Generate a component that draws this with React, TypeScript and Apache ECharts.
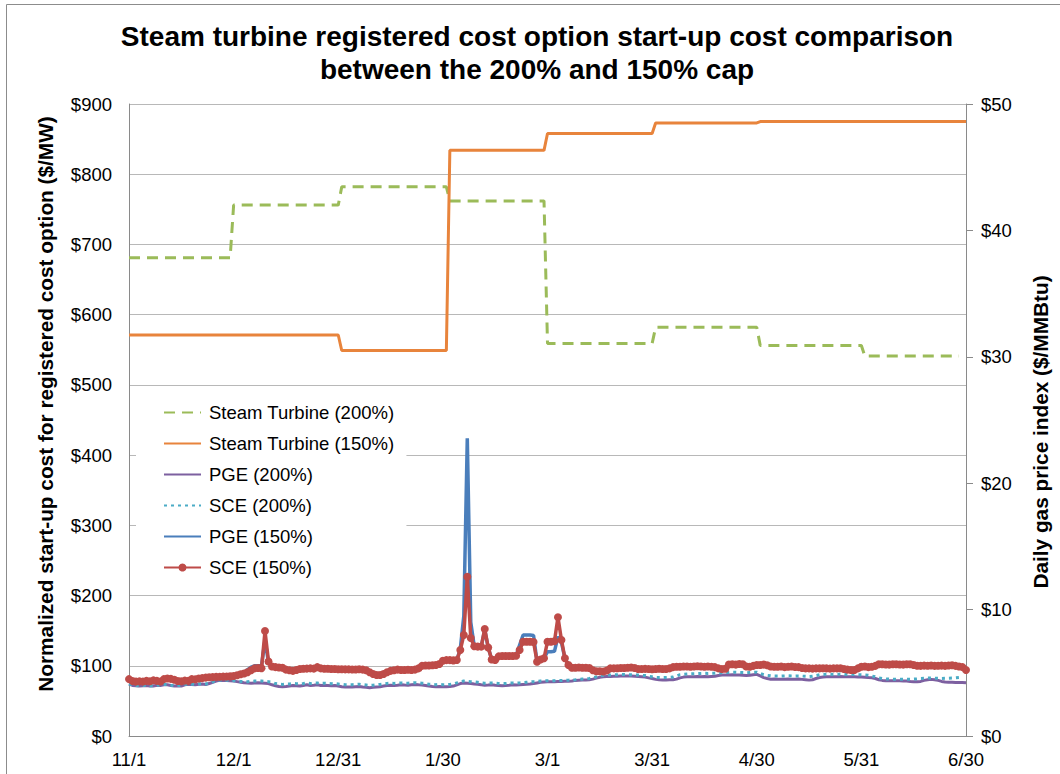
import React, { useEffect, useRef } from "react";
import * as echarts from "echarts";

// X axis: day index from 11/1 (0) to 6/30 (240); tick labels every 30 days
const tickLabels = ["11/1", "12/1", "12/31", "1/30", "3/1", "3/31", "4/30", "5/31", "6/30"];

// Steam turbine start-up cost ($/MW), step corners: day index and value
const steam200Day = [0, 29, 30, 60, 61, 91, 92, 119, 120, 150, 151, 180, 181, 210, 211, 238];
const steam200Cost = [681, 681, 756, 756, 782, 782, 762, 762, 559, 559, 582, 582, 556, 556, 541, 541];
const steam150Day = [0, 60, 61, 91, 92, 119, 120, 150, 151, 180, 181, 240];
const steam150Cost = [571, 571, 549, 549, 834, 834, 858, 858, 873, 873, 875, 875];

// Daily gas price index ($/MMBtu), one value per day from 11/1
const pge200 = [
  4.10, 4.00, 3.98, 3.96, 3.98, 4.00, 3.95, 3.96, 4.02, 4.00,
  4.05, 4.05, 4.00, 3.96, 3.98, 3.95, 4.05, 4.10, 4.08, 4.05,
  4.10, 4.12, 4.08, 4.15, 4.25, 4.35, 4.40, 4.42, 4.40, 4.38,
  4.35, 4.30, 4.25, 4.22, 4.20, 4.18, 4.20, 4.22, 4.20, 4.18,
  4.15, 4.05, 3.98, 3.92, 3.90, 3.92, 3.95, 4.00, 3.98, 3.95,
  4.00, 4.05, 4.00, 4.02, 4.05, 4.00, 4.02, 4.00, 3.98, 4.00,
  3.95, 3.90, 3.88, 3.87, 3.88, 3.90, 3.92, 3.88, 3.85, 3.82,
  3.85, 3.88, 3.90, 3.95, 4.00, 4.02, 4.00, 4.02, 4.05, 4.03,
  4.02, 4.05, 4.08, 4.05, 4.03, 4.00, 3.95, 3.92, 3.90, 3.92,
  3.90, 3.90, 3.92, 3.95, 4.05, 4.15, 4.20, 4.18, 4.15, 4.12,
  4.10, 4.05, 4.02, 4.03, 4.05, 4.02, 4.00, 3.98, 4.00, 4.02,
  4.05, 4.03, 4.05, 4.08, 4.10, 4.12, 4.15, 4.20, 4.25, 4.28,
  4.30, 4.30, 4.30, 4.32, 4.32, 4.33, 4.33, 4.35, 4.40, 4.42,
  4.43, 4.43, 4.45, 4.50, 4.58, 4.65, 4.68, 4.70, 4.70, 4.72,
  4.72, 4.74, 4.75, 4.75, 4.74, 4.72, 4.70, 4.68, 4.66, 4.60,
  4.55, 4.48, 4.45, 4.43, 4.43, 4.45, 4.45, 4.50, 4.60, 4.66,
  4.68, 4.68, 4.69, 4.70, 4.69, 4.70, 4.68, 4.70, 4.72, 4.78,
  4.82, 4.83, 4.83, 4.84, 4.83, 4.82, 4.80, 4.78, 4.80, 4.85,
  4.88, 4.75, 4.62, 4.55, 4.49, 4.50, 4.49, 4.48, 4.49, 4.50,
  4.48, 4.49, 4.50, 4.48, 4.45, 4.42, 4.45, 4.55, 4.62, 4.66,
  4.68, 4.69, 4.68, 4.69, 4.70, 4.69, 4.68, 4.69, 4.68, 4.67,
  4.66, 4.65, 4.62, 4.60, 4.55, 4.45, 4.40, 4.38, 4.38, 4.37,
  4.38, 4.38, 4.36, 4.35, 4.32, 4.30, 4.30, 4.32, 4.40, 4.45,
  4.48, 4.45, 4.40, 4.32, 4.28, 4.26, 4.25, 4.24, 4.24, 4.23,
  4.22,
];

const sce200 = [
  4.12, 4.02, 4.00, 3.98, 4.00, 4.02, 3.98, 3.98, 4.04, 4.02,
  4.08, 4.08, 4.02, 3.98, 4.00, 3.98, 4.08, 4.12, 4.10, 4.08,
  4.12, 4.15, 4.12, 4.18, 4.28, 4.38, 4.42, 4.44, 4.42, 4.40,
  4.38, 4.35, 4.32, 4.30, 4.30, 4.32, 4.35, 4.36, 4.35, 4.32,
  4.30, 4.25, 4.15, 4.10, 4.08, 4.10, 4.12, 4.15, 4.14, 4.12,
  4.15, 4.20, 4.15, 4.18, 4.20, 4.16, 4.18, 4.15, 4.14, 4.15,
  4.12, 4.08, 4.06, 4.05, 4.06, 4.08, 4.10, 4.06, 4.04, 4.00,
  4.02, 4.05, 4.08, 4.12, 4.16, 4.18, 4.16, 4.18, 4.20, 4.18,
  4.18, 4.20, 4.22, 4.20, 4.18, 4.15, 4.10, 4.08, 4.06, 4.08,
  4.06, 4.06, 4.08, 4.12, 4.20, 4.30, 4.35, 4.32, 4.30, 4.28,
  4.25, 4.20, 4.18, 4.18, 4.20, 4.18, 4.15, 4.14, 4.15, 4.18,
  4.20, 4.18, 4.20, 4.22, 4.25, 4.28, 4.30, 4.32, 4.35, 4.36,
  4.38, 4.38, 4.38, 4.40, 4.40, 4.40, 4.42, 4.43, 4.45, 4.48,
  4.50, 4.52, 4.55, 4.60, 4.68, 4.76, 4.80, 4.83, 4.83, 4.84,
  4.85, 4.86, 4.86, 4.85, 4.84, 4.83, 4.82, 4.80, 4.78, 4.72,
  4.68, 4.64, 4.62, 4.62, 4.63, 4.64, 4.66, 4.75, 4.85, 4.88,
  4.90, 4.92, 4.93, 4.94, 4.95, 4.96, 4.95, 4.96, 4.96, 4.98,
  5.00, 5.02, 5.03, 5.04, 5.04, 5.03, 5.02, 5.00, 5.02, 5.04,
  5.05, 4.95, 4.85, 4.80, 4.76, 4.75, 4.75, 4.74, 4.75, 4.76,
  4.75, 4.74, 4.75, 4.74, 4.72, 4.70, 4.72, 4.78, 4.84, 4.87,
  4.88, 4.88, 4.87, 4.88, 4.88, 4.87, 4.86, 4.87, 4.86, 4.85,
  4.84, 4.82, 4.80, 4.75, 4.68, 4.60, 4.55, 4.52, 4.50, 4.50,
  4.49, 4.50, 4.49, 4.48, 4.48, 4.50, 4.52, 4.55, 4.56, 4.58,
  4.58, 4.57, 4.56, 4.55, 4.56, 4.57, 4.58, 4.60, 4.62, null,
  null,
];

const pge150 = [
  4.45, 4.25, 4.20, 4.25, 4.28, 4.30, 4.25, 4.35, 4.30, 4.25,
  4.40, 4.50, 4.45, 4.38, 4.30, 4.30, 4.35, 4.32, 4.45, 4.45,
  4.55, 4.58, 4.60, 4.63, 4.65, 4.66, 4.66, 4.68, 4.70, 4.72,
  4.78, 4.85, 4.95, 5.05, 5.25, 5.45, 5.55, 5.55, 5.55, 7.60,
  5.80, 5.45, 5.42, 5.40, 5.38, 5.25, 5.18, 5.12, 5.20, 5.28,
  5.32, 5.33, 5.35, 5.33, 5.45, 5.35, 5.32, 5.32, 5.30, 5.30,
  5.28, 5.28, 5.27, 5.27, 5.26, 5.26, 5.28, 5.25, 5.20, 5.05,
  4.90, 4.82, 4.82, 4.90, 5.05, 5.15, 5.20, 5.25, 5.22, 5.22,
  5.24, 5.22, 5.25, 5.35, 5.55, 5.58, 5.58, 5.60, 5.62, 5.70,
  5.95, 6.00, 6.00, 5.98, 6.01, 6.90, 9.50, 23.55, 9.00, 7.10,
  7.07, 7.07, 8.40, 7.00, 6.05, 6.01, 6.30, 6.33, 6.33, 6.33,
  6.33, 6.35, 7.20, 7.99, 7.99, 7.99, 7.95, 5.88, 6.05, 6.15,
  6.67, 6.67, 6.70, 7.86, 7.40, 6.15, 5.62, 5.40, 5.40, 5.42,
  5.40, 5.40, 5.38, 5.20, 5.12, 5.12, 5.10, 5.18, 5.35, 5.35,
  5.36, 5.38, 5.38, 5.40, 5.42, 5.38, 5.30, 5.30, 5.31, 5.30,
  5.28, 5.30, 5.32, 5.30, 5.30, 5.35, 5.45, 5.48, 5.48, 5.50,
  5.55, 5.55, 5.56, 5.58, 5.56, 5.54, 5.55, 5.53, 5.50, 5.42,
  5.38, 5.40, 5.68, 5.70, 5.70, 5.74, 5.72, 5.56, 5.55, 5.62,
  5.68, 5.70, 5.72, 5.66, 5.56, 5.54, 5.54, 5.56, 5.52, 5.54,
  5.56, 5.52, 5.50, 5.42, 5.40, 5.40, 5.38, 5.40, 5.40, 5.40,
  5.40, 5.38, 5.40, 5.40, 5.40, 5.35, 5.30, 5.27, 5.27, 5.40,
  5.52, 5.55, 5.50, 5.52, 5.60, 5.72, 5.72, 5.70, 5.70, 5.72,
  5.74, 5.72, 5.70, 5.72, 5.72, 5.68, 5.62, 5.62, 5.64, 5.62,
  5.64, 5.62, 5.62, 5.64, 5.62, 5.64, 5.66, 5.62, 5.58, 5.52,
  5.35,
];

const sce150 = [
  4.50, 4.35, 4.30, 4.32, 4.30, 4.36, 4.33, 4.40, 4.36, 4.31,
  4.50, 4.55, 4.52, 4.45, 4.35, 4.33, 4.38, 4.36, 4.50, 4.48,
  4.55, 4.58, 4.62, 4.65, 4.66, 4.68, 4.68, 4.70, 4.70, 4.72,
  4.75, 4.80, 4.88, 4.95, 5.05, 5.20, 5.35, 5.38, 5.36, 8.30,
  5.90, 5.50, 5.45, 5.42, 5.40, 5.25, 5.20, 5.15, 5.22, 5.30,
  5.32, 5.33, 5.35, 5.33, 5.45, 5.35, 5.32, 5.32, 5.30, 5.30,
  5.28, 5.28, 5.27, 5.27, 5.26, 5.26, 5.28, 5.25, 5.20, 5.05,
  4.90, 4.82, 4.82, 4.90, 5.05, 5.15, 5.20, 5.25, 5.22, 5.22,
  5.24, 5.22, 5.25, 5.35, 5.55, 5.58, 5.58, 5.60, 5.62, 5.70,
  5.95, 6.00, 6.00, 5.98, 6.01, 6.80, 7.99, 12.60, 7.75, 7.10,
  7.07, 7.07, 8.47, 7.00, 6.05, 6.01, 6.30, 6.33, 6.33, 6.33,
  6.33, 6.35, 6.80, 7.46, 7.46, 7.46, 7.44, 5.88, 6.05, 6.15,
  7.46, 7.46, 7.50, 9.39, 7.60, 6.15, 5.62, 5.40, 5.40, 5.42,
  5.40, 5.40, 5.38, 5.20, 5.12, 5.12, 5.10, 5.18, 5.35, 5.35,
  5.36, 5.38, 5.38, 5.40, 5.42, 5.38, 5.30, 5.30, 5.31, 5.30,
  5.28, 5.30, 5.32, 5.30, 5.30, 5.35, 5.45, 5.48, 5.48, 5.50,
  5.50, 5.48, 5.50, 5.52, 5.50, 5.48, 5.50, 5.48, 5.45, 5.35,
  5.30, 5.32, 5.65, 5.67, 5.65, 5.70, 5.67, 5.50, 5.48, 5.55,
  5.62, 5.62, 5.65, 5.60, 5.50, 5.48, 5.48, 5.50, 5.45, 5.48,
  5.50, 5.46, 5.45, 5.38, 5.35, 5.35, 5.33, 5.35, 5.35, 5.36,
  5.35, 5.33, 5.35, 5.35, 5.36, 5.30, 5.25, 5.22, 5.22, 5.35,
  5.48, 5.50, 5.45, 5.48, 5.55, 5.67, 5.68, 5.66, 5.65, 5.67,
  5.68, 5.66, 5.65, 5.68, 5.67, 5.62, 5.56, 5.55, 5.57, 5.56,
  5.58, 5.55, 5.56, 5.57, 5.55, 5.58, 5.60, 5.55, 5.50, 5.45,
  5.22,
];

const titleLines = [
  "Steam turbine registered cost option start-up cost comparison",
  "between the 200% and 150% cap",
];
const leftAxisName = "Normalized start-up cost for registered cost option ($/MW)";
const rightAxisName = "Daily gas price index ($/MMBtu)";

const FONT = "'Liberation Sans', Arial, sans-serif";

const pairs = (xs: number[], ys: number[]) => xs.map((x, i) => [x, ys[i]]);
const daily = (ys: (number | null)[]) => ys.map((v, i) => [i, v]);

export default function App() {
  const ref = useRef<HTMLDivElement>(null);

  useEffect(() => {
    if (!ref.current) return;
    const chart = echarts.init(ref.current, null, { renderer: "svg" });

    const axisLineGray = "#8a8a8a";
    const labelStyle = { color: "#000", fontSize: 18.5, fontFamily: FONT };

    const noSym = { itemStyle: { opacity: 0 } };

    chart.setOption({
      animation: false,
      backgroundColor: "#fff",
      grid: { left: 129, right: 94, top: 104, bottom: 38, containLabel: false },
      legend: {
        orient: "vertical",
        left: 136,
        top: 397,
        padding: [6, 12, 6, 27],
        backgroundColor: "#fff",
        itemWidth: 37,
        itemHeight: 10,
        itemGap: 12,
        textStyle: { ...labelStyle, lineHeight: 19, padding: [0, 0, 0, 3] },
        data: [
          { name: "Steam Turbine (200%)", ...noSym },
          { name: "Steam Turbine (150%)", ...noSym },
          { name: "PGE (200%)", ...noSym },
          { name: "SCE (200%)", ...noSym },
          { name: "PGE (150%)", ...noSym },
          { name: "SCE (150%)" },
        ],
      },
      xAxis: {
        type: "value",
        min: 0,
        max: 240,
        interval: 30,
        axisLine: { show: true, lineStyle: { color: axisLineGray, width: 1 } },
        axisTick: { show: false },
        splitLine: { show: false },
        axisLabel: {
          ...labelStyle,
          margin: 14,
          formatter: (v: number) => tickLabels[Math.round(v / 30)] ?? "",
        },
      },
      yAxis: [
        {
          type: "value",
          min: 0,
          max: 900,
          interval: 100,
          axisLine: { show: true, lineStyle: { color: axisLineGray, width: 1 } },
          axisTick: { show: false },
          splitLine: { show: true, lineStyle: { color: "#b8b8b8", width: 1 } },
          axisLabel: { ...labelStyle, margin: 17, formatter: (v: number) => "$" + v },
        },
        {
          type: "value",
          position: "right",
          min: 0,
          max: 50,
          interval: 10,
          axisLine: { show: true, lineStyle: { color: axisLineGray, width: 1 } },
          axisTick: { show: true, inside: false, length: 7, lineStyle: { color: axisLineGray } },
          splitLine: { show: false },
          axisLabel: { ...labelStyle, margin: 15, formatter: (v: number) => "$" + v },
        },
      ],
      series: [
        {
          name: "Steam Turbine (200%)",
          type: "line",
          yAxisIndex: 0,
          data: pairs(steam200Day, steam200Cost),
          symbol: "none",
          itemStyle: { color: "#9bbb59" },
          lineStyle: { color: "#9bbb59", width: 3, type: [11, 7] },
        },
        {
          name: "Steam Turbine (150%)",
          type: "line",
          yAxisIndex: 0,
          data: pairs(steam150Day, steam150Cost),
          symbol: "none",
          itemStyle: { color: "#e8843c" },
          lineStyle: { color: "#e8843c", width: 3 },
        },
        {
          name: "PGE (200%)",
          type: "line",
          yAxisIndex: 1,
          data: daily(pge200),
          symbol: "none",
          itemStyle: { color: "#7d60a0" },
          lineStyle: { color: "#7d60a0", width: 3 },
        },
        {
          name: "SCE (200%)",
          type: "line",
          yAxisIndex: 1,
          data: daily(sce200),
          symbol: "none",
          itemStyle: { color: "#4bacc6" },
          lineStyle: { color: "#4bacc6", width: 3, type: [3, 4] },
        },
        {
          name: "PGE (150%)",
          type: "line",
          yAxisIndex: 1,
          data: daily(pge150),
          symbol: "none",
          itemStyle: { color: "#4a7ebb" },
          lineStyle: { color: "#4a7ebb", width: 3.5 },
        },
        {
          name: "SCE (150%)",
          type: "line",
          yAxisIndex: 1,
          data: daily(sce150),
          symbol: "circle",
          symbolSize: 8,
          showAllSymbol: true,
          itemStyle: { color: "#be4b48" },
          lineStyle: { color: "#be4b48", width: 3.5 },
        },
      ],
      graphic: [
        {
          type: "rect",
          z: -10,
          shape: { x: 6.5, y: 4.5, width: 1100, height: 900 },
          style: { fill: "none", stroke: "#8c8c8c", lineWidth: 1 },
          silent: true,
        },
        {
          type: "text",
          x: 537,
          y: 36,
          style: {
            text: titleLines[0],
            fill: "#000",
            font: `bold 28px ${FONT}`,
            textAlign: "center",
            textVerticalAlign: "middle",
          },
        },
        {
          type: "text",
          x: 537,
          y: 69,
          style: {
            text: titleLines[1],
            fill: "#000",
            font: `bold 28px ${FONT}`,
            textAlign: "center",
            textVerticalAlign: "middle",
          },
        },
        {
          type: "text",
          x: 45,
          y: 404,
          rotation: Math.PI / 2,
          style: {
            text: leftAxisName,
            fill: "#000",
            font: `bold 20.8px ${FONT}`,
            textAlign: "center",
            textVerticalAlign: "middle",
          },
        },
        {
          type: "text",
          x: 1040,
          y: 432,
          rotation: Math.PI / 2,
          style: {
            text: rightAxisName,
            fill: "#000",
            font: `bold 20.8px ${FONT}`,
            textAlign: "center",
            textVerticalAlign: "middle",
          },
        },
      ],
    });

    return () => chart.dispose();
  }, []);

  return (
    <div
      ref={ref}
      style={{ position: "absolute", left: 0, top: 0, width: 1060, height: 774 }}
    />
  );
}
